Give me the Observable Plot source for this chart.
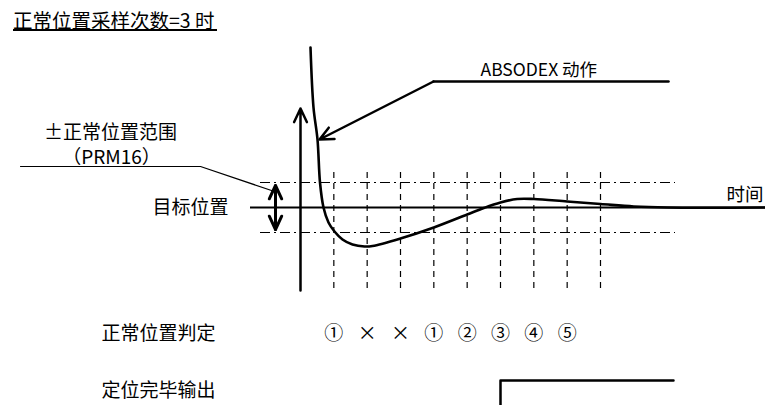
<!DOCTYPE html>
<html><head><meta charset="utf-8">
<script src="https://cdn.jsdelivr.net/npm/d3@7"></script>
<script src="https://cdn.jsdelivr.net/npm/@observablehq/plot@0.6"></script>
<style>
html,body{margin:0;padding:0;background:#fff;}
body{width:765px;height:405px;overflow:hidden;font-family:"Noto Sans CJK SC",sans-serif;}
#head{position:relative;height:38px;}
#title{position:absolute;left:13px;top:11px;font-size:19.5px;line-height:18px;white-space:nowrap;color:#000;}
#uline{position:absolute;left:13px;top:29px;width:204px;height:2px;background:#000;}
#chart svg{display:block;}
</style></head><body>
<div id="head"><div id="title"></div><div id="uline"></div></div>
<div id="chart"></div>
<script>
// ---- data ----
const titleText = "正常位置采样次数=3 时";
const sampleTimes = [1, 2, 3, 4, 5, 6, 7, 8, 9];
const judgments = ["①", "×", "×", "①", "②", "③", "④", "⑤"];
const curveT   = [0.30, 0.39, 0.51, 0.585, 0.69, 0.84, 1.02, 1.26, 1.56, 1.92, 2.16, 3.0, 4.0, 5.0, 5.5, 6.0, 6.5, 7.0, 8.0, 9.0, 10.0, 11.0, 13.95];
const curvePos = [6.40, 4.00, 2.72, 1.00, 0.00, -0.60, -0.96, -1.28, -1.48, -1.56, -1.54, -1.24, -0.80, -0.28, -0.02, 0.20, 0.34, 0.34, 0.24, 0.14, 0.04, 0.0, 0.0];
const bandLimits = [1, -1];
const targetPos = 0;
const outputOnT = 6;
const rowLabels = ["正常位置判定", "定位完毕输出"];
const bandLabel = ["±正常位置范围", "（PRM16）"];
const targetLabel = "目标位置";
const actionLabel = "ABSODEX 动作";
const timeLabel = "时间";

document.getElementById("title").textContent = titleText;

// layout helpers (page pixel -> data units)
const X = px => (px - 300) / (100 / 3);
const Y = py => (207 - py) / 25;
const FONT = "Noto Sans CJK SC";

const curve = curveT.map((t, i) => ({t, p: curvePos[i]}));
const tEnd = X(675);

const txt = (s, px, py, size, anchor) => Plot.text([s], {
  x: () => X(px), y: () => Y(py), text: d => d, fontSize: size,
  textAnchor: anchor, fill: "#000", fontFamily: FONT
});

const chart = Plot.plot({
  width: 765, height: 367, margin: 0,
  x: {domain: [X(0), X(765)], axis: null},
  y: {domain: [Y(405), Y(38)], axis: null},
  style: {fontFamily: FONT, background: "#fff", color: "#000"},
  marks: [
    // sampling instants
    Plot.ruleX(sampleTimes, {y1: Y(172), y2: Y(290), stroke: "#000", strokeWidth: 1.2, strokeDasharray: "6,5"}),
    // in-position band
    Plot.ruleY(bandLimits, {x1: X(260), x2: tEnd, stroke: "#000", strokeWidth: 1.2, strokeDasharray: "10,4,2,4"}),
    // target line
    Plot.ruleY([targetPos], {x1: X(250), x2: X(765), stroke: "#000", strokeWidth: 2}),
    // vertical axis with arrow
    Plot.arrow([0], {x1: 0, y1: Y(290), x2: 0, y2: Y(108), stroke: "#000", strokeWidth: 2.5, headLength: 9, headAngle: 50}),
    // double arrow for band width
    Plot.arrow(bandLimits, {x1: X(275), x2: X(275), y1: d => -d * 0.88, y2: d => d * 0.88, stroke: "#000", strokeWidth: 3, headLength: 7.5, headAngle: 50}),
    // response curve
    Plot.line(curve, {x: "t", y: "p", curve: "catmull-rom", stroke: "#000", strokeWidth: 2.6}),
    // pointer to curve
    Plot.line([[X(668), Y(81)], [X(433), Y(81)]], {x: d => d[0], y: d => d[1], stroke: "#000", strokeWidth: 2.5}),
    Plot.arrow([0], {x1: X(433), y1: Y(81), x2: X(319), y2: Y(139), stroke: "#000", strokeWidth: 2.5, headLength: 9, headAngle: 50}),
    // leader for band label
    Plot.line([[X(20), Y(166)], [X(200), Y(166)], [X(274), Y(191)]], {x: d => d[0], y: d => d[1], stroke: "#000", strokeWidth: 1.2}),
    // positioning-complete output
    Plot.line([[outputOnT, Y(405)], [outputOnT, Y(380)], [X(673), Y(380)]], {x: d => d[0], y: d => d[1], stroke: "#000", strokeWidth: 2.5}),
    // judgments at each sample
    Plot.text(judgments, {x: (d, i) => sampleTimes[i], y: () => Y(333), text: d => d, fontSize: 19, fill: "#000", fontFamily: FONT}),
    // labels
    txt(bandLabel[0], 110, 132, 19, "middle"),
    txt(bandLabel[1], 111, 157, 19, "middle"),
    txt(targetLabel, 228, 207, 19, "end"),
    txt(actionLabel, 480, 70, 17.5, "start"),
    txt(timeLabel, 763, 195, 18.5, "end"),
    txt(rowLabels[0], 101, 333, 19, "start"),
    txt(rowLabels[1], 101, 390, 19, "start")
  ]
});
document.getElementById("chart").append(chart);
</script>
</body></html>
